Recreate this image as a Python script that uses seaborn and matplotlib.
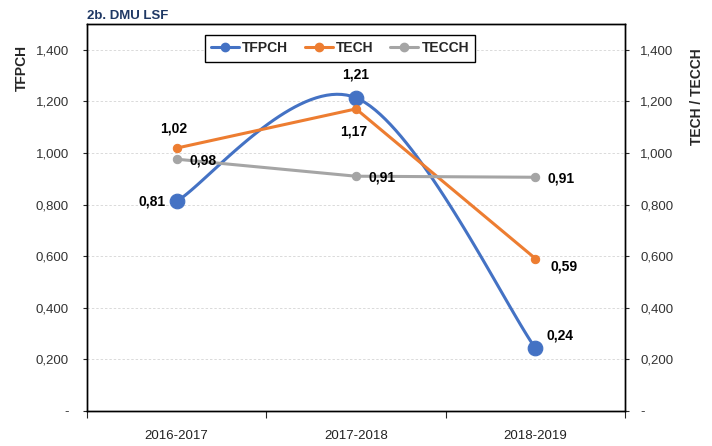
import numpy as np
import pandas as pd
import matplotlib
matplotlib.use('Agg')
import matplotlib.pyplot as plt
import seaborn as sns
from matplotlib.lines import Line2D
from matplotlib.ticker import FuncFormatter

# Data
periods = ['2016-2017', '2017-2018', '2018-2019']
tfpch = [0.813, 1.214, 0.244]
tech = [1.019, 1.171, 0.591]
tecch = [0.976, 0.910, 0.906]

BLUE = '#4472C4'
ORANGE = '#ED7D31'
GRAY = '#A5A5A5'

sns.set_style('white')
plt.rcParams['font.family'] = ['Liberation Sans', 'DejaVu Sans']


def excel_smooth(xs, ys, n=40):
    """Bezier smoothing like a spreadsheet 'smoothed line'."""
    pts = np.column_stack([xs, ys]).astype(float)
    ext = np.vstack([pts[0], pts, pts[-1]])
    out = []
    for i in range(len(pts) - 1):
        p0, p1, p2, p3 = ext[i], ext[i + 1], ext[i + 2], ext[i + 3]
        c1 = p1 + (p2 - p0) / 6
        c2 = p2 - (p3 - p1) / 6
        t = np.linspace(0, 1, n)[:, None]
        seg = ((1 - t) ** 3) * p1 + 3 * ((1 - t) ** 2) * t * c1 + 3 * (1 - t) * t ** 2 * c2 + t ** 3 * p2
        out.append(seg if i == 0 else seg[1:])
    return np.vstack(out)


def fmt_val(v, _=None):
    if abs(v) < 1e-9:
        return '-'
    return f'{v:,.3f}'.replace('.', ',')


x = np.arange(len(periods))
df = pd.DataFrame({'x': x, 'TFPCH': tfpch, 'TECH': tech, 'TECCH': tecch})
curve = excel_smooth(x, tfpch)
curve_df = pd.DataFrame({'x': curve[:, 0], 'y': curve[:, 1]})

fig = plt.figure(figsize=(7.12, 4.46), dpi=100)
ax = fig.add_axes([87 / 712, 1 - 411 / 446, (625 - 87) / 712, (411 - 24) / 446])
ax2 = ax.twinx()

# TFPCH on the left axis, smoothed
sns.lineplot(data=curve_df, x='x', y='y', sort=False, ax=ax, color=BLUE, linewidth=2.2)
sns.scatterplot(data=df, x='x', y='TFPCH', ax=ax, color=BLUE, s=110, edgecolor=BLUE, zorder=5)

# TECH / TECCH on the right axis
sns.lineplot(data=df, x='x', y='TECH', ax=ax2, color=ORANGE, linewidth=2.2,
             marker='o', markersize=6, markeredgecolor=ORANGE)
sns.lineplot(data=df, x='x', y='TECCH', ax=ax2, color=GRAY, linewidth=2.2,
             marker='o', markersize=6, markeredgecolor=GRAY)

yticks = np.round(np.arange(0, 1.41, 0.2), 1)
for a in (ax, ax2):
    a.set_ylim(0, 1.5)
    a.set_yticks(yticks)
    a.yaxis.set_major_formatter(FuncFormatter(fmt_val))
    a.set_xlim(-0.5, 2.5)
    a.set_xlabel('')
    a.set_ylabel('')
    for s in a.spines.values():
        s.set_visible(True)
        s.set_color('black')
        s.set_linewidth(1.0)

ax.grid(axis='y', color='#dadada', linestyle=(0, (2.5, 2)), linewidth=0.7)
ax.set_axisbelow(True)

ax.tick_params(axis='y', left=True, length=3, width=0.8, pad=10, labelsize=9.5, labelcolor='#333333')
ax2.tick_params(axis='y', right=True, length=3, width=0.8, pad=8, labelsize=9.5, labelcolor='#333333')

ax.set_xticks(x)
ax.set_xticklabels(periods)
ax.set_xticks([-0.5, 0.5, 1.5, 2.5], minor=True)
ax.tick_params(axis='x', which='major', length=0, pad=14, labelsize=9.5, labelcolor='#222222')
ax.tick_params(axis='x', which='minor', bottom=True, length=5, width=0.8, direction='out')

# data labels
lab = dict(fontsize=10, fontweight='bold', color='black', textcoords='offset points')
offs_tfpch = [((-8, 0), 'right'), ((0, 17), 'center'), ((8, 9), 'left')]
offs_tech = [((-2, 14), 'center'), ((-1.5, -16), 'center'), ((11, -6), 'left')]
offs_tecch = [((9, -1), 'left'), ((9, -1), 'left'), ((9, -1), 'left')]
for vals, offs, a in ((tfpch, offs_tfpch, ax), (tech, offs_tech, ax2), (tecch, offs_tecch, ax2)):
    for xi, v, (off, ha) in zip(x, vals, offs):
        a.annotate(f'{v:.2f}'.replace('.', ','), (xi, v), xytext=off, ha=ha, va='center', **lab)

# legend
handles = [Line2D([], [], color=c, linewidth=2.2, marker='o', markersize=6) for c in (BLUE, ORANGE, GRAY)]
leg = fig.legend(handles, ['TFPCH', 'TECH', 'TECCH'], loc='upper center',
                 bbox_to_anchor=(340 / 712, 1 - 35 / 446), ncol=3, frameon=True, fancybox=False,
                 framealpha=1, edgecolor='black', handlelength=2.0, handletextpad=0.25,
                 columnspacing=1.2, borderpad=0.45, borderaxespad=0,
                 prop={'weight': 'bold', 'size': 10})
leg.get_frame().set_linewidth(1.0)

fig.text(87 / 712, 1 - 16 / 446, '2b. DMU LSF', fontsize=9.5, fontweight='bold', color='#1F3864',
         ha='left', va='center')
fig.text(22 / 712, 1 - 68 / 446, 'TFPCH', rotation=90, fontsize=10, fontweight='bold',
         ha='center', va='center')
fig.text(697 / 712, 1 - 97 / 446, 'TECH / TECCH', rotation=90, fontsize=10, fontweight='bold',
         ha='center', va='center')

fig.savefig('out.png', dpi=100)
